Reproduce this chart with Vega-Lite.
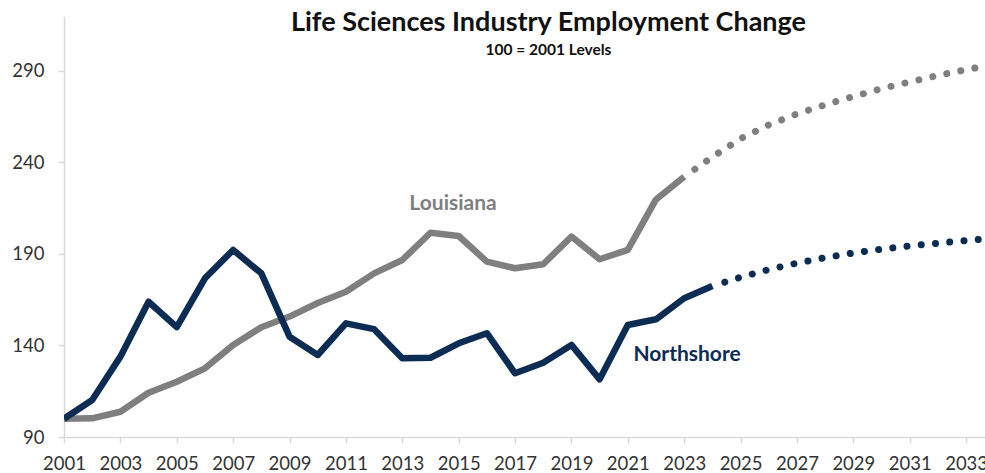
{
  "$schema": "https://vega.github.io/schema/vega-lite/v6.json",
  "autosize": {"type": "none"},
  "padding": {"left": 64, "top": 16, "right": 0, "bottom": 36},
  "width": 921,
  "height": 421,
  "background": "white",
  "config": {"view": {"stroke": null}, "font": "Lato"},
  "title": {
    "text": "Life Sciences Industry Employment Change",
    "subtitle": "100 = 2001 Levels",
    "anchor": "middle",
    "frame": "group",
    "dx": 24,
    "offset": -43,
    "font": "Lato",
    "fontSize": 27,
    "fontWeight": "bold",
    "color": "#111111",
    "subtitleFont": "Lato",
    "subtitleFontSize": 15.5,
    "subtitleFontWeight": "bold",
    "subtitleColor": "#111111",
    "subtitlePadding": 6
  },
  "datasets": {
    "series": [
      {"year": 2001, "value": 100, "series": "Louisiana", "part": "actual"},
      {"year": 2002, "value": 100.2, "series": "Louisiana", "part": "actual"},
      {"year": 2003, "value": 103.8, "series": "Louisiana", "part": "actual"},
      {"year": 2004, "value": 114.2, "series": "Louisiana", "part": "actual"},
      {"year": 2005, "value": 120.2, "series": "Louisiana", "part": "actual"},
      {"year": 2006, "value": 127.5, "series": "Louisiana", "part": "actual"},
      {"year": 2007, "value": 140.3, "series": "Louisiana", "part": "actual"},
      {"year": 2008, "value": 150, "series": "Louisiana", "part": "actual"},
      {"year": 2009, "value": 155.8, "series": "Louisiana", "part": "actual"},
      {"year": 2010, "value": 163.2, "series": "Louisiana", "part": "actual"},
      {"year": 2011, "value": 169.4, "series": "Louisiana", "part": "actual"},
      {"year": 2012, "value": 179.4, "series": "Louisiana", "part": "actual"},
      {"year": 2013, "value": 186.7, "series": "Louisiana", "part": "actual"},
      {"year": 2014, "value": 201.6, "series": "Louisiana", "part": "actual"},
      {"year": 2015, "value": 199.8, "series": "Louisiana", "part": "actual"},
      {"year": 2016, "value": 185.8, "series": "Louisiana", "part": "actual"},
      {"year": 2017, "value": 182.2, "series": "Louisiana", "part": "actual"},
      {"year": 2018, "value": 184.4, "series": "Louisiana", "part": "actual"},
      {"year": 2019, "value": 199.5, "series": "Louisiana", "part": "actual"},
      {"year": 2020, "value": 187.1, "series": "Louisiana", "part": "actual"},
      {"year": 2021, "value": 192.2, "series": "Louisiana", "part": "actual"},
      {"year": 2022, "value": 219.8, "series": "Louisiana", "part": "actual"},
      {"year": 2023, "value": 232.2, "series": "Louisiana", "part": "actual"},
      {"year": 2023, "value": 232.2, "series": "Louisiana", "part": "proj"},
      {"year": 2024, "value": 243, "series": "Louisiana", "part": "proj"},
      {"year": 2025, "value": 253, "series": "Louisiana", "part": "proj"},
      {"year": 2026, "value": 260.5, "series": "Louisiana", "part": "proj"},
      {"year": 2027, "value": 266.5, "series": "Louisiana", "part": "proj"},
      {"year": 2028, "value": 271.5, "series": "Louisiana", "part": "proj"},
      {"year": 2029, "value": 276, "series": "Louisiana", "part": "proj"},
      {"year": 2030, "value": 280.3, "series": "Louisiana", "part": "proj"},
      {"year": 2031, "value": 284, "series": "Louisiana", "part": "proj"},
      {"year": 2032, "value": 287.5, "series": "Louisiana", "part": "proj"},
      {"year": 2033, "value": 290.7, "series": "Louisiana", "part": "proj"},
      {"year": 2034, "value": 293.5, "series": "Louisiana", "part": "proj"},
      {"year": 2001, "value": 100, "series": "Northshore", "part": "actual"},
      {"year": 2002, "value": 110.2, "series": "Northshore", "part": "actual"},
      {"year": 2003, "value": 133.9, "series": "Northshore", "part": "actual"},
      {"year": 2004, "value": 163.9, "series": "Northshore", "part": "actual"},
      {"year": 2005, "value": 150, "series": "Northshore", "part": "actual"},
      {"year": 2006, "value": 176.7, "series": "Northshore", "part": "actual"},
      {"year": 2007, "value": 192.2, "series": "Northshore", "part": "actual"},
      {"year": 2008, "value": 179.4, "series": "Northshore", "part": "actual"},
      {"year": 2009, "value": 144.8, "series": "Northshore", "part": "actual"},
      {"year": 2010, "value": 134.8, "series": "Northshore", "part": "actual"},
      {"year": 2011, "value": 152.1, "series": "Northshore", "part": "actual"},
      {"year": 2012, "value": 148.9, "series": "Northshore", "part": "actual"},
      {"year": 2013, "value": 133, "series": "Northshore", "part": "actual"},
      {"year": 2014, "value": 133.3, "series": "Northshore", "part": "actual"},
      {"year": 2015, "value": 141.2, "series": "Northshore", "part": "actual"},
      {"year": 2016, "value": 146.7, "series": "Northshore", "part": "actual"},
      {"year": 2017, "value": 124.8, "series": "Northshore", "part": "actual"},
      {"year": 2018, "value": 130.6, "series": "Northshore", "part": "actual"},
      {"year": 2019, "value": 140.3, "series": "Northshore", "part": "actual"},
      {"year": 2020, "value": 121.5, "series": "Northshore", "part": "actual"},
      {"year": 2021, "value": 151.2, "series": "Northshore", "part": "actual"},
      {"year": 2022, "value": 154.3, "series": "Northshore", "part": "actual"},
      {"year": 2023, "value": 165.8, "series": "Northshore", "part": "actual"},
      {"year": 2024, "value": 172.5, "series": "Northshore", "part": "actual"},
      {"year": 2024, "value": 172.5, "series": "Northshore", "part": "proj"},
      {"year": 2025, "value": 177.3, "series": "Northshore", "part": "proj"},
      {"year": 2026, "value": 181.5, "series": "Northshore", "part": "proj"},
      {"year": 2027, "value": 185, "series": "Northshore", "part": "proj"},
      {"year": 2028, "value": 188, "series": "Northshore", "part": "proj"},
      {"year": 2029, "value": 190.5, "series": "Northshore", "part": "proj"},
      {"year": 2030, "value": 192.6, "series": "Northshore", "part": "proj"},
      {"year": 2031, "value": 194.4, "series": "Northshore", "part": "proj"},
      {"year": 2032, "value": 195.9, "series": "Northshore", "part": "proj"},
      {"year": 2033, "value": 197.3, "series": "Northshore", "part": "proj"},
      {"year": 2034, "value": 198.6, "series": "Northshore", "part": "proj"}
    ],
    "labels": [
      {"year": 2014.8, "value": 217.3, "series": "Louisiana", "label": "Louisiana"},
      {"year": 2023.1, "value": 134.8, "series": "Northshore", "label": "Northshore"}
    ]
  },
  "encoding": {
    "x": {
      "field": "year",
      "type": "quantitative",
      "scale": {"domain": [2001, 2033.67], "nice": false, "zero": false},
      "axis": {
        "title": null,
        "values": [2001, 2003, 2005, 2007, 2009, 2011, 2013, 2015, 2017, 2019, 2021, 2023, 2025, 2027, 2029, 2031, 2033],
        "format": "d",
        "grid": false,
        "domainColor": "#d9d9d9",
        "domainWidth": 1.5,
        "tickColor": "#d9d9d9",
        "tickWidth": 1.5,
        "tickSize": 6,
        "labelFont": "Lato",
        "labelFontSize": 18.5,
        "labelColor": "#333333",
        "labelPadding": 11,
        "labelOverlap": false,
        "labelFlush": false
      }
    },
    "y": {
      "field": "value",
      "type": "quantitative",
      "scale": {"domain": [90, 320], "nice": false, "zero": false},
      "axis": {
        "title": null,
        "values": [90, 140, 190, 240, 290],
        "grid": false,
        "domainColor": "#d9d9d9",
        "domainWidth": 1.5,
        "tickColor": "#d9d9d9",
        "tickWidth": 1.5,
        "tickSize": 6,
        "labelFont": "Lato",
        "labelFontSize": 18.5,
        "labelColor": "#333333",
        "labelPadding": 14
      }
    },
    "color": {
      "field": "series",
      "type": "nominal",
      "scale": {"domain": ["Louisiana", "Northshore"], "range": ["#7f7f7f", "#0c2c54"]},
      "legend": null
    }
  },
  "layer": [
    {
      "data": {"name": "series"},
      "transform": [{"filter": "datum.part === 'actual'"}],
      "mark": {"type": "line", "strokeWidth": 6.5, "strokeJoin": "round", "strokeCap": "butt", "clip": true},
      "encoding": {"detail": {"field": "series"}}
    },
    {
      "data": {"name": "series"},
      "transform": [{"filter": "datum.part === 'proj'"}],
      "mark": {"type": "line", "strokeWidth": 7, "strokeDash": [0.01, 14.3], "strokeCap": "round", "strokeDashOffset": -13, "clip": true},
      "encoding": {"detail": {"field": "series"}}
    },
    {
      "data": {"name": "labels"},
      "mark": {"type": "text", "font": "Lato", "fontSize": 21, "fontWeight": "bold", "align": "center", "baseline": "middle"},
      "encoding": {"text": {"field": "label"}}
    }
  ]
}
